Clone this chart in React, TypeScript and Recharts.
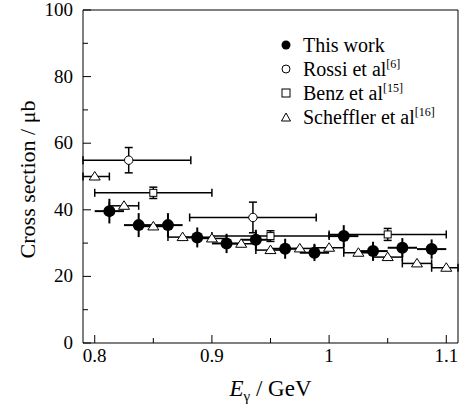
import React from 'react';
import {ComposedChart, Scatter, XAxis, YAxis, ErrorBar, ReferenceLine, Legend} from 'recharts';

// photon energy (GeV) and cross sections (μb)
const thisWorkE = [0.8125, 0.8375, 0.8625, 0.8875, 0.9125, 0.9375, 0.9625, 0.9875, 1.0125, 1.0375, 1.0625, 1.0875];
const thisWorkCs = [39.6, 35.4, 35.4, 31.7, 29.9, 31.0, 28.3, 27.1, 32.1, 27.6, 28.6, 28.2];
const thisWorkErr = [3.7, 3.6, 3.6, 3.0, 2.9, 3.0, 3.0, 2.5, 3.3, 2.8, 2.9, 2.9];
const thisWorkBin = [0.0125, 0.0125, 0.0125, 0.0125, 0.0125, 0.0125, 0.0125, 0.0125, 0.0125, 0.0125, 0.0125, 0.0125];

const rossiE = [0.829, 0.935];
const rossiCs = [54.9, 37.7];
const rossiErr = [3.8, 4.6];
const rossiBin = [0.053, 0.054];

const benzE = [0.85, 0.95, 1.05];
const benzCs = [45.1, 32.1, 32.6];
const benzErr = [1.7, 1.6, 1.8];
const benzBin = [0.05, 0.05, 0.05];

const schefflerE = [0.8, 0.825, 0.85, 0.875, 0.9, 0.925, 0.95, 0.975, 1.0, 1.025, 1.05, 1.075, 1.1];
const schefflerCs = [50.0, 41.2, 35.0, 31.8, 31.4, 29.8, 27.9, 28.4, 28.6, 27.1, 25.8, 23.9, 22.6];
const schefflerBin = [0.0125, 0.0125, 0.0125, 0.0125, 0.0125, 0.0125, 0.0125, 0.0125, 0.0125, 0.0125, 0.0125, 0.0125, 0.0125];

const xTicks = [0.8, 0.85, 0.9, 0.95, 1.0, 1.05, 1.1];
const xTickLabels = ['0.8', '', '0.9', '', '1', '', '1.1'];
const yTicks = [0, 10, 20, 30, 40, 50, 60, 70, 80, 90, 100];
const yTickLabels = ['0', '', '20', '', '40', '', '60', '', '80', '', '100'];

const X_DOMAIN: [number, number] = [0.79, 1.11];
const FONT = '"Liberation Serif", "Times New Roman", serif';

// error bars are cut at the frame, like the original plot
const rows = (xs: number[], ys: number[], ey: number[] | null, ex: number[]) =>
    xs.map((x, i) => ({
        x,
        y: ys[i],
        ey: ey ? ey[i] : 0,
        ex: [Math.min(ex[i], x - X_DOMAIN[0]), Math.min(ex[i], X_DOMAIN[1] - x)],
    }));

const thisWork = rows(thisWorkE, thisWorkCs, thisWorkErr, thisWorkBin);
const rossi = rows(rossiE, rossiCs, rossiErr, rossiBin);
const benz = rows(benzE, benzCs, benzErr, benzBin);
const scheffler = rows(schefflerE, schefflerCs, null, schefflerBin);

const XTick = (props: any) => {
    const {x, y, index} = props;
    const label = xTickLabels[index];
    const len = label ? 8 : 5;
    return (
        <g>
            <line x1={x} y1={y} x2={x} y2={y - len} stroke="#000" strokeWidth={1}/>
            {label && (
                <text x={x} y={y + 19} textAnchor="middle" fontFamily={FONT} fontSize={19} fill="#000">{label}</text>
            )}
        </g>
    );
};

const YTick = (props: any) => {
    const {x, y, index} = props;
    const label = yTickLabels[index];
    const len = label ? 8 : 5;
    return (
        <g>
            <line x1={x} y1={y} x2={x + len} y2={y} stroke="#000" strokeWidth={1}/>
            {label && (
                <text x={x - 10} y={y + 6} textAnchor="end" fontFamily={FONT} fontSize={19} fill="#000">{label}</text>
            )}
        </g>
    );
};

const Dot = (p: any) => <circle cx={p.cx} cy={p.cy} r={6} fill="#000"/>;
const OpenDot = (p: any) => <circle cx={p.cx} cy={p.cy} r={4.2} fill="#fff" stroke="#000" strokeWidth={1}/>;
const Square = (p: any) => <rect x={p.cx - 3.5} y={p.cy - 3.5} width={7} height={7} fill="#fff" stroke="#000" strokeWidth={1}/>;
const Triangle = (p: any) => (
    <path d={`M${p.cx},${p.cy - 5} L${p.cx + 5.5},${p.cy + 3.5} L${p.cx - 5.5},${p.cy + 3.5} Z`} fill="#fff" stroke="#000" strokeWidth={1}/>
);

const legendItems = [
    {name: 'This work', ref: '', icon: <circle cx={6} cy={6} r={4.5} fill="#000"/>},
    {name: 'Rossi et al', ref: '[6]', icon: <circle cx={6} cy={6} r={4} fill="#fff" stroke="#000"/>},
    {name: 'Benz et al', ref: '[15]', icon: <rect x={2} y={2} width={8} height={8} fill="#fff" stroke="#000"/>},
    {name: 'Scheffler et al', ref: '[16]', icon: <path d="M6,2 L10.5,10 L1.5,10 Z" fill="#fff" stroke="#000"/>},
];

const LegendBox = () => (
    <div style={{fontFamily: FONT, fontSize: 20, color: '#000', lineHeight: '24px'}}>
        {legendItems.map(item => (
            <div key={item.name} style={{display: 'flex', alignItems: 'center', height: 24}}>
                <svg width={12} height={12} style={{marginRight: 11}}>{item.icon}</svg>
                <span>{item.name}{item.ref && <sup style={{fontSize: 12, lineHeight: 0}}>{item.ref}</sup>}</span>
            </div>
        ))}
    </div>
);

export default function App() {
    return (
        <div style={{position: 'absolute', left: 0, top: 0, background: '#fff'}}>
            <ComposedChart width={472} height={410} margin={{top: 10, right: 14, bottom: 0, left: 0}}>
                <XAxis
                    dataKey="x"
                    type="number"
                    domain={X_DOMAIN}
                    ticks={xTicks}
                    allowDataOverflow
                    height={67}
                    tickSize={0}
                    tickMargin={0}
                    tick={<XTick/>}
                    axisLine={{stroke: '#000'}}
                    interval={0}
                    label={{
                        content: (p: any) => (
                            <text x={p.viewBox.x + p.viewBox.width / 2} y={p.viewBox.y + 53} textAnchor="middle"
                                  fontFamily={FONT} fontSize={23} fill="#000">
                                <tspan fontStyle="italic">E</tspan>
                                <tspan fontSize={15} dy={5}>γ</tspan>
                                <tspan dy={-5}> / GeV</tspan>
                            </text>
                        ),
                    }}
                />
                <YAxis
                    dataKey="y"
                    type="number"
                    domain={[0, 100]}
                    ticks={yTicks}
                    allowDataOverflow
                    width={83}
                    tickSize={0}
                    tickMargin={0}
                    tick={<YTick/>}
                    axisLine={{stroke: '#000'}}
                    interval={0}
                    label={{
                        content: (p: any) => {
                            const cy = p.viewBox.y + p.viewBox.height / 2 + 3;
                            return (
                                <g transform={`translate(27 ${cy}) rotate(-90)`} opacity={0.99}>
                                    <text x={0} y={8} textAnchor="middle" fontFamily={FONT} fontSize={22}
                                          style={{fill: '#000'}}>
                                        Cross section / μb
                                    </text>
                                </g>
                            );
                        },
                    }}
                />
                <ReferenceLine y={100} stroke="#000" strokeWidth={1}/>
                <ReferenceLine x={1.11} stroke="#000" strokeWidth={1}/>
                <Scatter data={thisWork} shape={Dot} isAnimationActive={false}>
                    <ErrorBar dataKey="ex" direction="x" width={0} stroke="#000" strokeWidth={2}/>
                    <ErrorBar dataKey="ey" direction="y" width={0} stroke="#000" strokeWidth={2}/>
                </Scatter>
                <Scatter data={rossi} shape={OpenDot} isAnimationActive={false}>
                    <ErrorBar dataKey="ex" direction="x" width={4} stroke="#000" strokeWidth={1.5}/>
                    <ErrorBar dataKey="ey" direction="y" width={4} stroke="#000" strokeWidth={1.5}/>
                </Scatter>
                <Scatter data={benz} shape={Square} isAnimationActive={false}>
                    <ErrorBar dataKey="ex" direction="x" width={4} stroke="#000" strokeWidth={1.5}/>
                    <ErrorBar dataKey="ey" direction="y" width={4} stroke="#000" strokeWidth={1.5}/>
                </Scatter>
                <Scatter data={scheffler} shape={Triangle} isAnimationActive={false}>
                    <ErrorBar dataKey="ex" direction="x" width={4} stroke="#000" strokeWidth={1.5}/>
                </Scatter>
                <Legend
                    layout="vertical"
                    align="center"
                    verticalAlign="middle"
                    content={<LegendBox/>}
                    wrapperStyle={{position: 'absolute', left: 280, top: 33, width: 'auto', height: 'auto'}}
                />
            </ComposedChart>
        </div>
    );
}
